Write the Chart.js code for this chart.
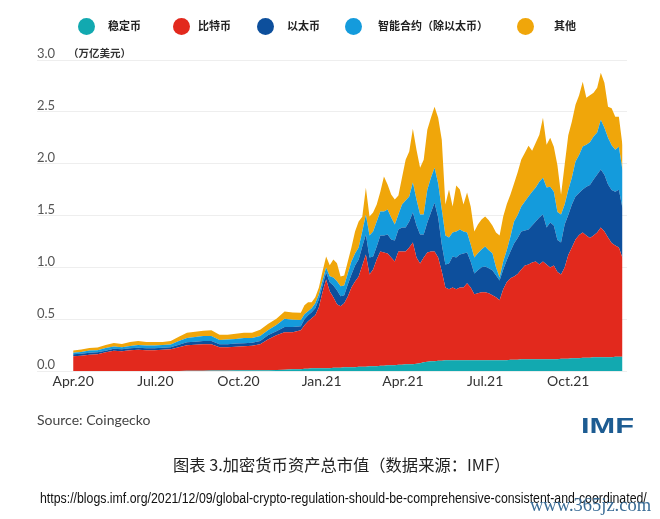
<!DOCTYPE html>
<html>
<head>
<meta charset="utf-8">
<style>
  html, body { margin: 0; padding: 0; background: #fff; }
  #wrap { position: relative; width: 660px; height: 519px; overflow: hidden; font-family: "Noto Sans CJK SC", sans-serif; }
  canvas { position: absolute; left: 0; top: 0; }
  .t { position: absolute; white-space: nowrap; line-height: 1; }
  .dot { position: absolute; width: 17px; height: 17px; border-radius: 50%; top: 18px; }
  .leg { top: 20px; font-size: 11px; font-weight: 700; color: #222; }
</style>
</head>
<body>
<div id="wrap">
  <canvas id="chart" width="660" height="519"></canvas>
  <div class="t" style="left:68px;top:48px;font-size:10.5px;font-weight:700;color:#333;">（万亿美元）</div>
  <div class="t" style="left:37px;top:411px;font:14px Lato,sans-serif;color:#444;">Source: Coingecko</div>
  <div class="t" style="left:581px;top:413px;font:700 22px 'Liberation Sans',sans-serif;color:#1d5c92;transform:scaleX(1.4);transform-origin:left top;">IMF</div>
  <div class="t" style="left:173px;top:456px;font-size:16.3px;color:#222;">图表 3.加密货币资产总市值（数据来源：IMF）</div>
  <div class="t" style="left:40px;top:490px;font:14px 'Liberation Sans',sans-serif;color:#111;transform:scaleX(.88);transform-origin:left top;">https://blogs.imf.org/2021/12/09/global-crypto-regulation-should-be-comprehensive-consistent-and-coordinated/</div>
  <div class="t" style="left:530px;top:495px;font:18.5px 'Liberation Serif',serif;color:#3a6c96;">www.365jz.com</div>
</div>
<script src="https://cdn.jsdelivr.net/npm/chart.js@4/dist/chart.umd.min.js"></script>
<script>
// days since 1 Apr 2020
const days = [0,9,18,27,36,45,54,63,72,81,90,99,108,117,126,135,144,153,162,171,180,189,198,207,216,225,234,243,252,
  256,260,264,268,272,276,280,284,288,292,296,300,304,308,312,316,320,324,328,332,336,340,344,348,352,356,360,364,368,372,
  376,380,384,388,392,396,400,404,408,412,416,420,424,428,432,436,440,444,448,452,456,460,464,468,472,476,480,484,488,492,
  496,500,504,508,512,516,520,524,528,532,536,540,544,548,552,556,560,564,568,572,576,580,584,588,592,596,600,604,608];

const stablecoin = [0,0,0,0,0,0,0,0,0,0,0,0,0,.003,.005,.005,.005,.006,.006,.007,.008,.008,.009,.01,.01,.012,.015,.018,.02,
  .024,.024,.029,.029,.029,.029,.029,.029,.034,.034,.034,.038,.038,.038,.038,.043,.043,.043,.048,.048,.048,.053,.053,.058,.058,.058,.063,.063,.067,.067,
  .067,.072,.077,.087,.091,.096,.096,.101,.101,.106,.106,.106,.106,.106,.106,.106,.106,.106,.106,.106,.106,.106,.106,.106,.106,.106,.106,.111,.111,.111,
  .115,.115,.115,.115,.115,.115,.115,.115,.115,.115,.115,.120,.120,.120,.125,.125,.125,.130,.130,.130,.135,.135,.135,.135,.135,.135,.139,.139,.139,.144];

const bitcoin = [.144,.149,.159,.163,.183,.197,.192,.202,.207,.202,.202,.207,.212,.228,.245,.25,.255,.254,.225,.224,.228,.232,.236,.25,.298,.334,.36,.357,.374,
  .418,.457,.481,.510,.587,.731,.856,.741,.678,.611,.592,.616,.683,.770,.827,.871,.976,1.082,.885,.933,1.029,1.101,1.092,1.077,1.039,1.000,1.092,1.092,1.087,1.126,
  1.174,1.025,.962,1.010,1.053,1.058,1.058,.996,.861,.702,.683,.702,.683,.702,.702,.741,.702,.635,.645,.654,.654,.645,.625,.606,.577,.683,.755,.784,.803,.827,
  .866,.904,.914,.933,.943,.914,.943,.914,.885,.904,.842,.813,.880,1.000,1.068,1.145,1.188,1.207,1.178,1.154,1.174,1.203,1.251,1.212,1.154,1.101,1.073,1.053,.952];

const ether = [.02,.02,.02,.02,.015,.02,.02,.02,.02,.02,.02,.02,.02,.025,.03,.03,.03,.03,.03,.03,.03,.03,.03,.03,.04,.04,.05,.05,.04,
  .058,.058,.058,.067,.077,.067,.067,.087,.115,.135,.096,.077,.115,.125,.154,.164,.183,.192,.164,.125,.125,.154,.164,.183,.173,.202,.212,.231,.231,.25,
  .289,.308,.279,.221,.289,.375,.471,.385,.26,.221,.25,.298,.308,.317,.327,.298,.25,.202,.221,.241,.25,.241,.241,.212,.192,.192,.212,.26,.317,.346,
  .366,.337,.337,.356,.385,.452,.452,.356,.433,.385,.308,.308,.414,.385,.414,.414,.404,.414,.471,.51,.539,.558,.558,.548,.51,.51,.519,.558,.481];

const smartContract = [.015,.015,.02,.02,.025,.02,.02,.02,.025,.025,.025,.025,.025,.035,.04,.045,.05,.05,.04,.045,.045,.05,.045,.05,.05,.06,.08,.07,.06,
  .048,.038,.038,.048,.048,.048,.048,.058,.077,.087,.096,.096,.106,.125,.115,.115,.144,.192,.212,.241,.241,.231,.231,.241,.212,.154,.144,.221,.26,.241,
  .289,.25,.192,.192,.317,.337,.337,.327,.337,.279,.25,.231,.25,.241,.212,.192,.164,.154,.164,.173,.192,.173,.164,.077,.029,.077,.096,.144,.212,.221,
  .241,.279,.317,.327,.327,.346,.356,.385,.346,.327,.269,.269,.192,.241,.26,.337,.366,.414,.404,.414,.414,.404,.481,.452,.452,.433,.404,.414,.366];

const other = [.02,.025,.025,.025,.03,.035,.03,.04,.04,.035,.035,.03,.035,.04,.05,.05,.05,.055,.05,.045,.05,.05,.05,.06,.06,.06,.07,.07,.07,
  .087,.087,.058,.058,.067,.087,.106,.106,.173,.173,.096,.096,.115,.135,.212,.25,.144,.26,.183,.183,.164,.192,.337,.241,.221,.241,.183,.26,.394,.433,
  .519,.481,.452,.529,.577,.577,.587,.635,.673,.298,.462,.25,.443,.385,.26,.385,.366,.25,.279,.289,.289,.289,.269,.337,.404,.433,.443,.404,.366,.414,
  .452,.471,.491,.394,.433,.452,.577,.414,.471,.433,.452,.192,.385,.529,.539,.548,.577,.625,.452,.452,.423,.433,.452,.433,.298,.356,.317,.289,.241];

const seriesNames = ['稳定币', '比特币', '以太币', '智能合约（除以太币）', '其他'];
const seriesColors = ['#12a9b0', '#e2291d', '#0d4f9c', '#149bdc', '#f0a60a'];
const seriesValues = [stablecoin, bitcoin, ether, smartContract, other];

const tickDays = [0, 91, 183, 275, 365, 456, 548];
const tickNames = ['Apr.20', 'Jul.20', 'Oct.20', 'Jan.21', 'Apr.21', 'Jul.21', 'Oct.21'];

// legend sits at uneven spacing in the original, so place it by hand
const legendDotX = [78, 173, 257, 345, 517];
const legendTextX = [108, 198, 287, 378, 554];
const wrap = document.getElementById('wrap');
seriesNames.forEach((name, i) => {
  const dot = document.createElement('div');
  dot.className = 'dot';
  dot.style.left = legendDotX[i] + 'px';
  dot.style.background = seriesColors[i];
  wrap.appendChild(dot);
  const txt = document.createElement('div');
  txt.className = 't leg';
  txt.style.left = legendTextX[i] + 'px';
  txt.textContent = name;
  wrap.appendChild(txt);
});

new Chart(document.getElementById('chart'), {
  type: 'line',
  data: {
    labels: days,
    datasets: seriesNames.map((name, i) => ({
      label: name,
      data: seriesValues[i],
      backgroundColor: seriesColors[i],
      borderWidth: 0,
      pointRadius: 0,
      tension: 0,
      fill: i === 0 ? 'origin' : '-1'
    }))
  },
  options: {
    responsive: false,
    animation: false,
    layout: { padding: { left: 37, right: 33, top: 60, bottom: 127 } },
    plugins: { legend: { display: false }, tooltip: { enabled: false } },
    scales: {
      x: {
        type: 'linear',
        min: -40,
        max: 613,
        grid: { display: false, drawTicks: false },
        border: { display: false },
        afterBuildTicks: scale => { scale.ticks = tickDays.map(v => ({ value: v })); },
        ticks: {
          autoSkip: false,
          maxRotation: 0,
          padding: 2,
          color: '#333',
          font: { family: 'Lato', size: 14 },
          callback: v => tickNames[tickDays.indexOf(v)]
        }
      },
      y: {
        stacked: true,
        min: 0,
        max: 3,
        grid: { color: '#eeeeee', drawTicks: false },
        border: { display: false },
        ticks: {
          stepSize: 0.5,
          mirror: true,
          padding: 0,
          labelOffset: -6,
          color: '#555',
          font: { family: 'Lato', size: 13 },
          callback: v => v.toFixed(1)
        }
      }
    }
  }
});
</script>
</body>
</html>
